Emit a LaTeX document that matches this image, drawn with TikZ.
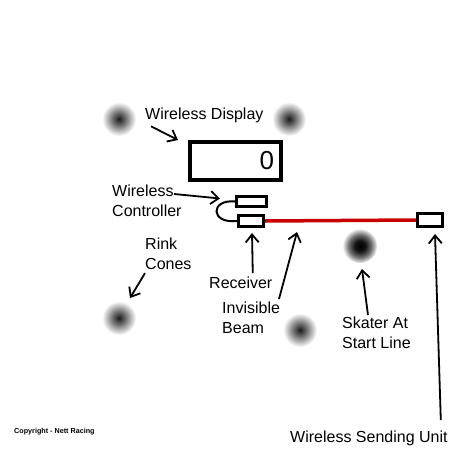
\documentclass[tikz,border=0pt]{standalone}
\usepackage{fontspec}
\setmainfont{Liberation Sans}
\usetikzlibrary{arrows.meta}
\definecolor{beam}{RGB}{200,0,0}
\pgfdeclareradialshading{cone}{\pgfpoint{0bp}{0bp}}{color(0bp)=(black!90); color(10bp)=(black!55); color(25bp)=(white); color(50bp)=(white)}
\pgfdeclareradialshading{skater}{\pgfpoint{0bp}{0bp}}{color(0bp)=(black); color(8bp)=(black!92); color(17bp)=(black!55); color(26bp)=(white); color(50bp)=(white)}
\newcommand{\drawcone}[3]{\shade[shading=cone] (#2,#3) coordinate (#1) circle (17pt);}
\newcommand{\drawthick}{\draw[line width=4pt]}

\begin{document}
\begin{tikzpicture}[x=1pt,y=-1pt,font=\fontsize{16}{20}\selectfont,
  lbl/.style={align=left,inner sep=0pt,anchor=north west},
  unit/.style={draw,line width=3pt,minimum width=25pt,minimum height=11pt,inner sep=0pt},
  ptr/.style={-{Straight Barb[length=8pt,width=13pt]},line width=1.8pt}]
\useasboundingbox[fill=white] (0,0) rectangle (450,450);
\drawcone{c1}{119}{119}\drawcone{c2}{289}{119}\drawcone{c3}{119}{318}\drawcone{c4}{300}{330}
\shade[shading=skater] (360,246) coordinate (skater) circle (17pt);
\node[draw,line width=4pt,minimum width=91pt,minimum height=38pt,inner sep=0pt,
  text width=77pt,align=right,font=\fontsize{26}{26}\selectfont] (disp) at (235.5,161) {0};
\node[unit,minimum width=30pt,minimum height=10pt] (ctrl) at (251.5,201.5) {};
\node[unit] (recv) at (251,221) {};
\node[unit,minimum height=13pt] (sender) at (430,220) {};
\draw[beam,line width=3.5pt] (recv.east) -- (sender.west);
\draw[line width=2pt] (ctrl.west) .. controls (210,199) and (210,224) .. (recv.west);
\node[lbl] (wdisp) at (145,108) {Wireless Display};
\node[lbl] (wctrl) at (112,185) {Wireless\\Controller};
\node[lbl] (rink) at (145,238) {Rink\\Cones};
\node[lbl] (rcvlbl) at (209,277) {Receiver};
\node[lbl] (beamlbl) at (222,302) {Invisible\\Beam};
\node[lbl] (skatelbl) at (342,317) {Skater At\\Start Line};
\node[lbl] (sendlbl) at (290,431) {Wireless Sending Unit};
\node[lbl,font=\fontsize{7.2}{8}\selectfont\bfseries] (copy) at (14,428) {Copyright - Nett Racing};
\coordinate (aim) at (297,232);
\draw[ptr] ([shift={(6,3)}]wdisp.south west) -- ([shift={(-10,0)}]disp.north west);
\draw[ptr] ([shift={(62,9)}]wctrl.north west) -- ([shift={(-15,-3)}]ctrl.west);
\draw[ptr] ([shift={(0,3)}]rink.south west) -- ([shift={(11,-20)}]c3);
\draw[ptr] ([shift={(12,-4)}]rcvlbl.north) -- ([shift={(1,5)}]recv.south);
\draw[ptr] ([shift={(57,-3)}]beamlbl.north west) -- (aim);
\draw[ptr] ([shift={(26,-2)}]skatelbl.north west) -- ([shift={(2,23)}]skater);
\draw[ptr] ([shift={(-7,-11)}]sendlbl.north east) -- ([shift={(5,6)}]sender.south);
\end{tikzpicture}
\end{document}
